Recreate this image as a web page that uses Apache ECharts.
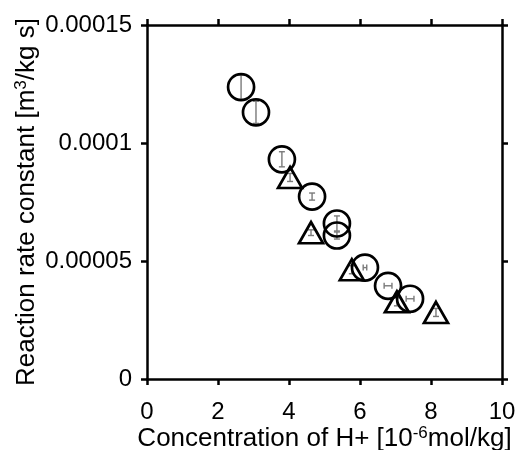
<!DOCTYPE html>
<html><head><meta charset="utf-8">
<script src="https://cdn.jsdelivr.net/npm/echarts@6/dist/echarts.min.js"></script>
<style>html,body{margin:0;padding:0;background:#fff}#c{width:516px;height:450px}</style>
</head><body><div id="c"></div>
<script>
const xTicks = ['0','2','4','6','8','10'];
const yTickLabels = {0:'0', 0.00005:'0.00005', 0.0001:'0.0001', 0.00015:'0.00015'};

const xCircle = [2.65, 3.07, 3.80, 4.65, 5.35, 5.35, 6.14, 6.79, 7.41];
const yCircle = [1.237e-4, 1.130e-4, 0.931e-4, 0.773e-4, 0.659e-4, 0.608e-4, 0.472e-4, 0.395e-4, 0.340e-4];
const yErrCircle = [0.52e-5, 0.47e-5, 0.32e-5, 0.15e-5, 0.32e-5, 0.15e-5, 0, 0, 0];
const xErrCircle = [0, 0, 0, 0, 0, 0, 0.05, 0.11, 0.11];

const xTri = [4.03, 4.62, 5.77, 7.04, 8.14];
const yTri = [0.854e-4, 0.620e-4, 0.463e-4, 0.327e-4, 0.282e-4];
const yErrTri = [0.17e-5, 0.12e-5, 0.17e-5, 0.17e-5, 0.17e-5];
const xErrTri = [0, 0, 0, 0, 0];

function pts(xs, ys){ return xs.map((x,i)=>[x, ys[i]]); }
function errData(xs, ys, xe, ye){ return xs.map((x,i)=>[x, ys[i], xe[i], ye[i]]); }

function renderErr(params, api){
  const x = api.value(0), y = api.value(1), xe = api.value(2), ye = api.value(3);
  const style = {stroke:'#7a7a7a', lineWidth:1.4};
  const ch = [];
  const cap = 3;
  if (ye > 0){
    const p1 = api.coord([x, y - ye]), p2 = api.coord([x, y + ye]);
    ch.push({type:'line', shape:{x1:p1[0],y1:p1[1],x2:p2[0],y2:p2[1]}, style});
    ch.push({type:'line', shape:{x1:p1[0]-cap,y1:p1[1],x2:p1[0]+cap,y2:p1[1]}, style});
    ch.push({type:'line', shape:{x1:p2[0]-cap,y1:p2[1],x2:p2[0]+cap,y2:p2[1]}, style});
  }
  if (xe > 0){
    const p1 = api.coord([x - xe, y]), p2 = api.coord([x + xe, y]);
    ch.push({type:'line', shape:{x1:p1[0],y1:p1[1],x2:p2[0],y2:p2[1]}, style});
    ch.push({type:'line', shape:{x1:p1[0],y1:p1[1]-cap,x2:p1[0],y2:p1[1]+cap}, style});
    ch.push({type:'line', shape:{x1:p2[0],y1:p2[1]-cap,x2:p2[0],y2:p2[1]+cap}, style});
  }
  return {type:'group', children:ch};
}

const axisLine = {show:true, onZero:false, lineStyle:{color:'#000', width:2.5}};
const axisTick = {show:true, length:6, lineStyle:{color:'#000', width:2.5}};
const font = 'Liberation Sans, Arial, sans-serif';

const chart = echarts.init(document.getElementById('c'));
chart.setOption({
  animation:false,
  backgroundColor:'#fff',
  grid:{left:147, right:14, top:25, bottom:71, containLabel:false, outerBoundsMode:'none'},
  xAxis:[{
    type:'value', min:0, max:10, interval:2, position:'bottom',
    axisLine, axisTick, splitLine:{show:false},
    axisLabel:{fontSize:24, color:'#000', fontFamily:font, margin:21, showMaxLabel:true,
      formatter:(v)=>xTicks[Math.round(v/2)]},
    name:'{a|Concentration of H+ [10}{s|-6}{a|mol/kg]}',
    nameLocation:'middle', nameGap:46, nameMoveOverlap:false,
    nameTextStyle:{rich:{a:{fontSize:26, color:'#000', fontFamily:font},
      s:{fontSize:17, color:'#000', fontFamily:font, verticalAlign:'top', padding:[0,0,10,0]}}}
  },{
    type:'value', min:0, max:10, interval:2, position:'top',
    axisLine, axisTick, axisLabel:{show:false}, splitLine:{show:false}
  }],
  yAxis:[{
    type:'value', min:0, max:0.00015, interval:0.00005, position:'left',
    axisLine, axisTick, splitLine:{show:false},
    axisLabel:{fontSize:24, color:'#000', fontFamily:font, margin:15,
      formatter:(v)=>{ const k = Object.keys(yTickLabels).find(t=>Math.abs(t - v) < 1e-9); return k!==undefined ? yTickLabels[k] : ''; }},
    name:'{a|Reaction rate constant [m}{s|3}{a|/kg s]}',
    nameLocation:'middle', nameGap:107, nameRotate:90, nameMoveOverlap:false,
    nameTextStyle:{rich:{a:{fontSize:26, color:'#000', fontFamily:font},
      s:{fontSize:17, color:'#000', fontFamily:font, verticalAlign:'top', padding:[0,0,10,0]}}}
  },{
    type:'value', min:0, max:0.00015, interval:0.00005, position:'right',
    axisLine, axisTick, axisLabel:{show:false}, splitLine:{show:false}
  }],
  series:[
    {type:'custom', renderItem:renderErr, data:errData(xCircle, yCircle, xErrCircle, yErrCircle), z:1},
    {type:'custom', renderItem:renderErr, data:errData(xTri, yTri, xErrTri, yErrTri), z:1},
    {type:'scatter', data:pts(xCircle, yCircle), symbol:'circle', symbolSize:26,
      itemStyle:{color:'rgba(0,0,0,0)', borderColor:'#000', borderWidth:2.7, opacity:1}, z:3},
    {type:'scatter', data:pts(xTri, yTri), symbol:'triangle', symbolSize:[24,21],
      itemStyle:{color:'rgba(0,0,0,0)', borderColor:'#000', borderWidth:2.7, opacity:1}, z:3}
  ]
});
</script></body></html>
